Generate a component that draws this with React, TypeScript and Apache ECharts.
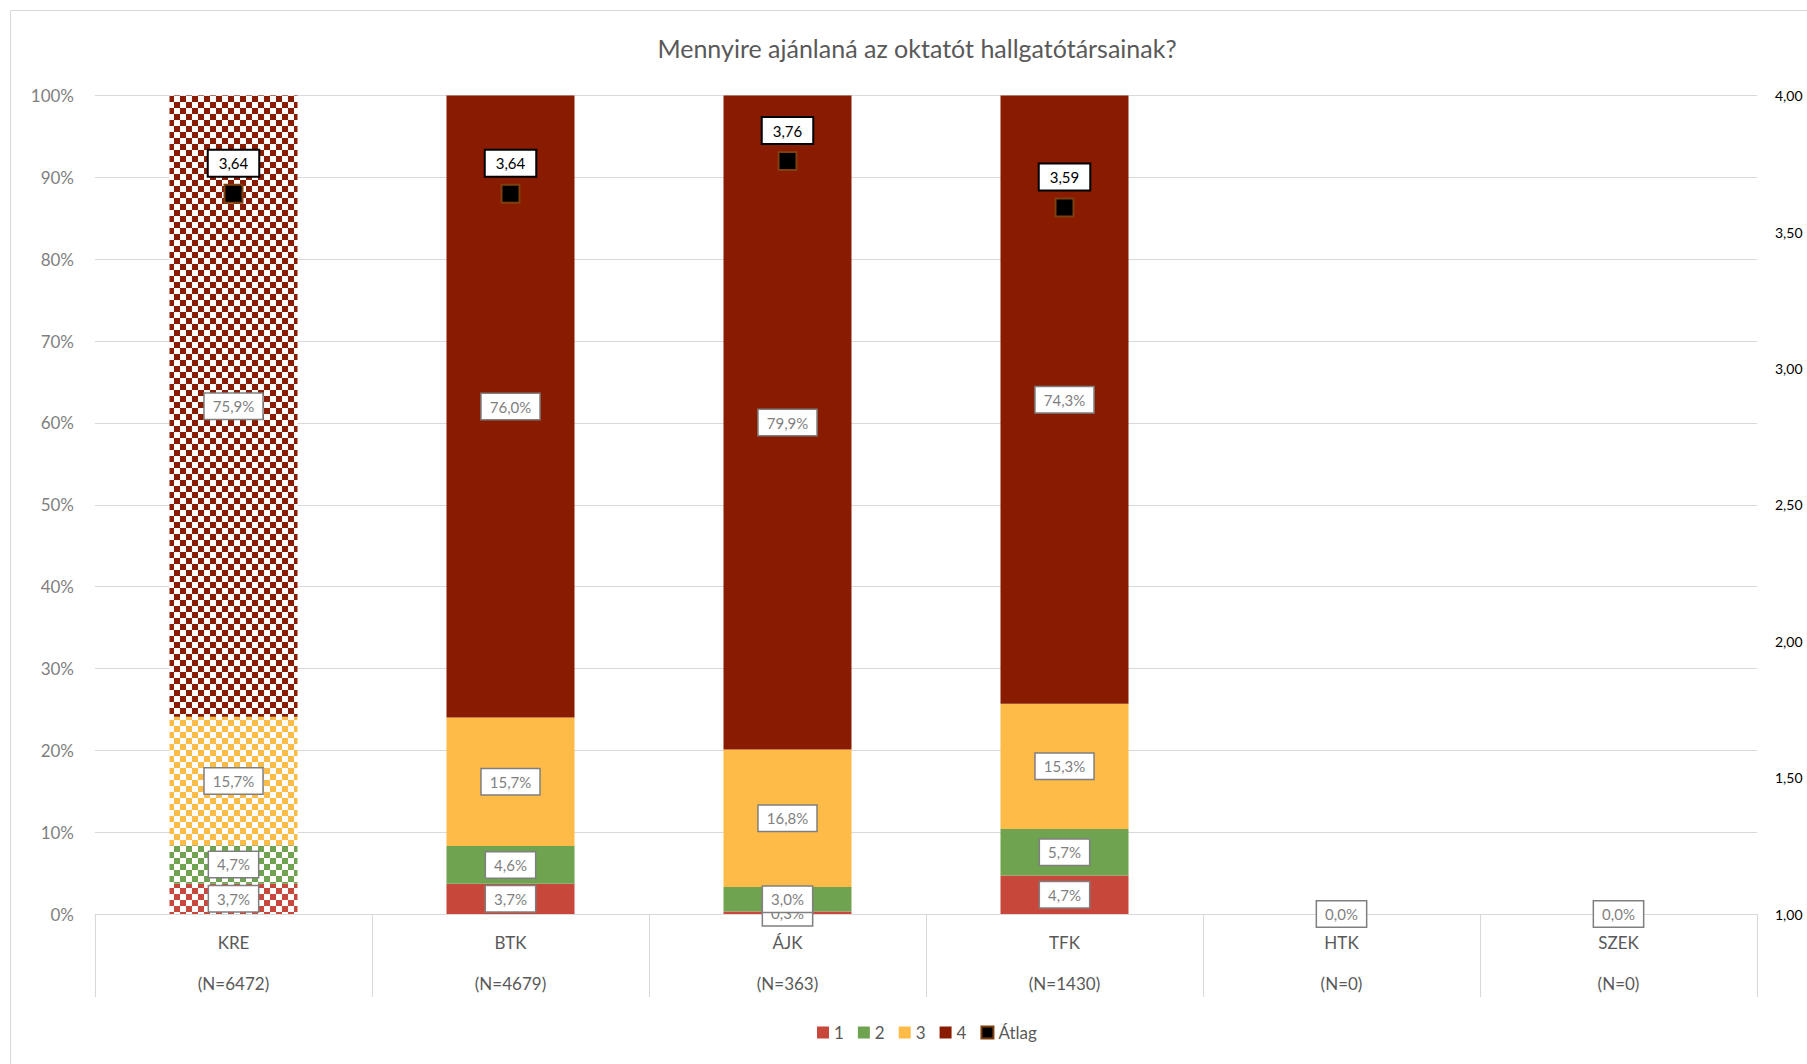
import React, { useEffect, useRef } from 'react';
import * as echarts from 'echarts';

const categories = ['KRE', 'BTK', 'ÁJK', 'TFK', 'HTK', 'SZEK'];
const counts = ['N=6472', 'N=4679', 'N=363', 'N=1430', 'N=0', 'N=0'];
const seriesNames = ['1', '2', '3', '4'];
const s1 = [3.7, 3.7, 0.3, 4.7, 0, 0];
const s2 = [4.7, 4.6, 3.0, 5.7, 0, 0];
const s3 = [15.7, 15.7, 16.8, 15.3, 0, 0];
const s4 = [75.9, 76.0, 79.9, 74.3, 0, 0];
const avg: (number | null)[] = [3.64, 3.64, 3.76, 3.59, null, null];
const avgName = 'Átlag';
const title = 'Mennyire ajánlaná az oktatót hallgatótársainak?';
const colors = ['#C8473B', '#70A350', '#FFBB47', '#891B00'];
const patternedCategory = 'KRE';

const FONT = 'Lato, "Noto Sans", sans-serif';

function checker(color: string, cell = 6) {
  const c = document.createElement('canvas');
  c.width = cell * 2;
  c.height = cell * 2;
  const ctx = c.getContext('2d')!;
  ctx.fillStyle = '#ffffff';
  ctx.fillRect(0, 0, cell * 2, cell * 2);
  ctx.fillStyle = color;
  ctx.fillRect(0, 0, cell, cell);
  ctx.fillRect(cell, cell, cell, cell);
  return { image: c, repeat: 'repeat', imageWidth: cell * 2, imageHeight: cell * 2 } as any;
}

const fmtPct = (v: number) => v.toFixed(1).replace('.', ',') + '%';

export default function App() {
  const ref = useRef<HTMLDivElement>(null);
  useEffect(() => {
    if (!ref.current) return;
    const chart = echarts.init(ref.current, undefined, { renderer: 'svg' });
    const stacks = [s1, s2, s3, s4];
    const barSeries = stacks.map((arr, si) => ({
      name: seriesNames[si],
      type: 'bar',
      stack: 'total',
      barWidth: 128,
      itemStyle: { color: colors[si] },
      label: {
        show: true,
        position: 'inside',
        formatter: (p: any) => fmtPct(Number(p.value)),
        backgroundColor: '#ffffff',
        borderColor: '#7f7f7f',
        borderWidth: 1.5,
        padding: [5, 8],
        color: '#7f7f7f',
        fontSize: 15,
        fontFamily: FONT,
      },
      data: arr.map((v, i) => {
        const item: any = { value: v };
        if (categories[i] === patternedCategory) item.itemStyle = { color: checker(colors[si]) };
        if (v === 0 && si > 0) item.label = { show: false };
        return item;
      }),
    }));

    chart.setOption({
      animation: false,
      backgroundColor: '#ffffff',
      textStyle: { fontFamily: FONT },
      graphic: [
        {
          type: 'rect',
          z: -10,
          shape: { x: 10.5, y: 10.5, width: 2400, height: 2400 },
          style: { fill: 'none', stroke: '#d9d9d9', lineWidth: 1 },
        },
        {
          type: 'text',
          x: 917,
          y: 48,
          style: {
            text: title,
            align: 'center',
            verticalAlign: 'middle',
            fontSize: 25,
            fill: '#595959',
            fontFamily: FONT,
          },
        },
      ],
      legend: {
        left: 812,
        top: 1019,
        itemWidth: 12,
        itemHeight: 12,
        itemGap: 14,
        textStyle: { fontSize: 17, color: '#595959', fontFamily: FONT },
        data: [...seriesNames, avgName].map((n) => ({ name: n, icon: 'rect' })),
      },
      grid: { left: 95, right: 50, top: 95.6, bottom: 150, containLabel: false },
      xAxis: {
        type: 'category',
        data: categories,
        axisLine: { lineStyle: { color: '#d9d9d9', width: 1 } },
        axisTick: { show: true, length: 83, lineStyle: { color: '#d9d9d9' } },
        axisLabel: {
          interval: 0,
          margin: 8,
          lineHeight: 41,
          fontSize: 17,
          color: '#595959',
          fontFamily: FONT,
          formatter: (v: string, i: number) => `${v}\n(${counts[i]})`,
        },
      },
      yAxis: [
        {
          type: 'value',
          min: 0,
          max: 100,
          interval: 10,
          axisLine: { show: false },
          axisTick: { show: false },
          splitLine: { lineStyle: { color: '#d9d9d9', width: 1 } },
          axisLabel: {
            formatter: '{value}%',
            margin: 21,
            fontSize: 17,
            color: '#7f7f7f',
            fontFamily: FONT,
          },
        },
        {
          type: 'value',
          min: 1,
          max: 4,
          interval: 0.5,
          position: 'right',
          axisLine: { show: false },
          axisTick: { show: false },
          splitLine: { show: false },
          axisLabel: {
            formatter: (v: number) => v.toFixed(2).replace('.', ','),
            margin: 18,
            fontSize: 14,
            color: '#000000',
            fontFamily: FONT,
          },
        },
      ],
      series: [
        ...barSeries,
        {
          name: avgName,
          type: 'scatter',
          yAxisIndex: 1,
          symbol: 'rect',
          symbolSize: 18,
          itemStyle: { color: '#000000', borderColor: '#7F3F0F', borderWidth: 2, opacity: 1 },
          label: {
            show: true,
            position: 'top',
            distance: 8,
            formatter: (p: any) => Number(p.value).toFixed(2).replace('.', ','),
            backgroundColor: '#ffffff',
            borderColor: '#000000',
            borderWidth: 2,
            padding: [5, 10],
            color: '#000000',
            fontSize: 15,
            fontFamily: FONT,
            opacity: 1,
          },
          data: avg.map((v) => (v == null ? '-' : v)),
          z: 5,
        },
      ],
    });
    return () => chart.dispose();
  }, []);
  return (
    <div
      ref={ref}
      style={{ position: 'absolute', left: 0, top: 0, width: 1807, height: 1064, background: '#fff' }}
    />
  );
}
